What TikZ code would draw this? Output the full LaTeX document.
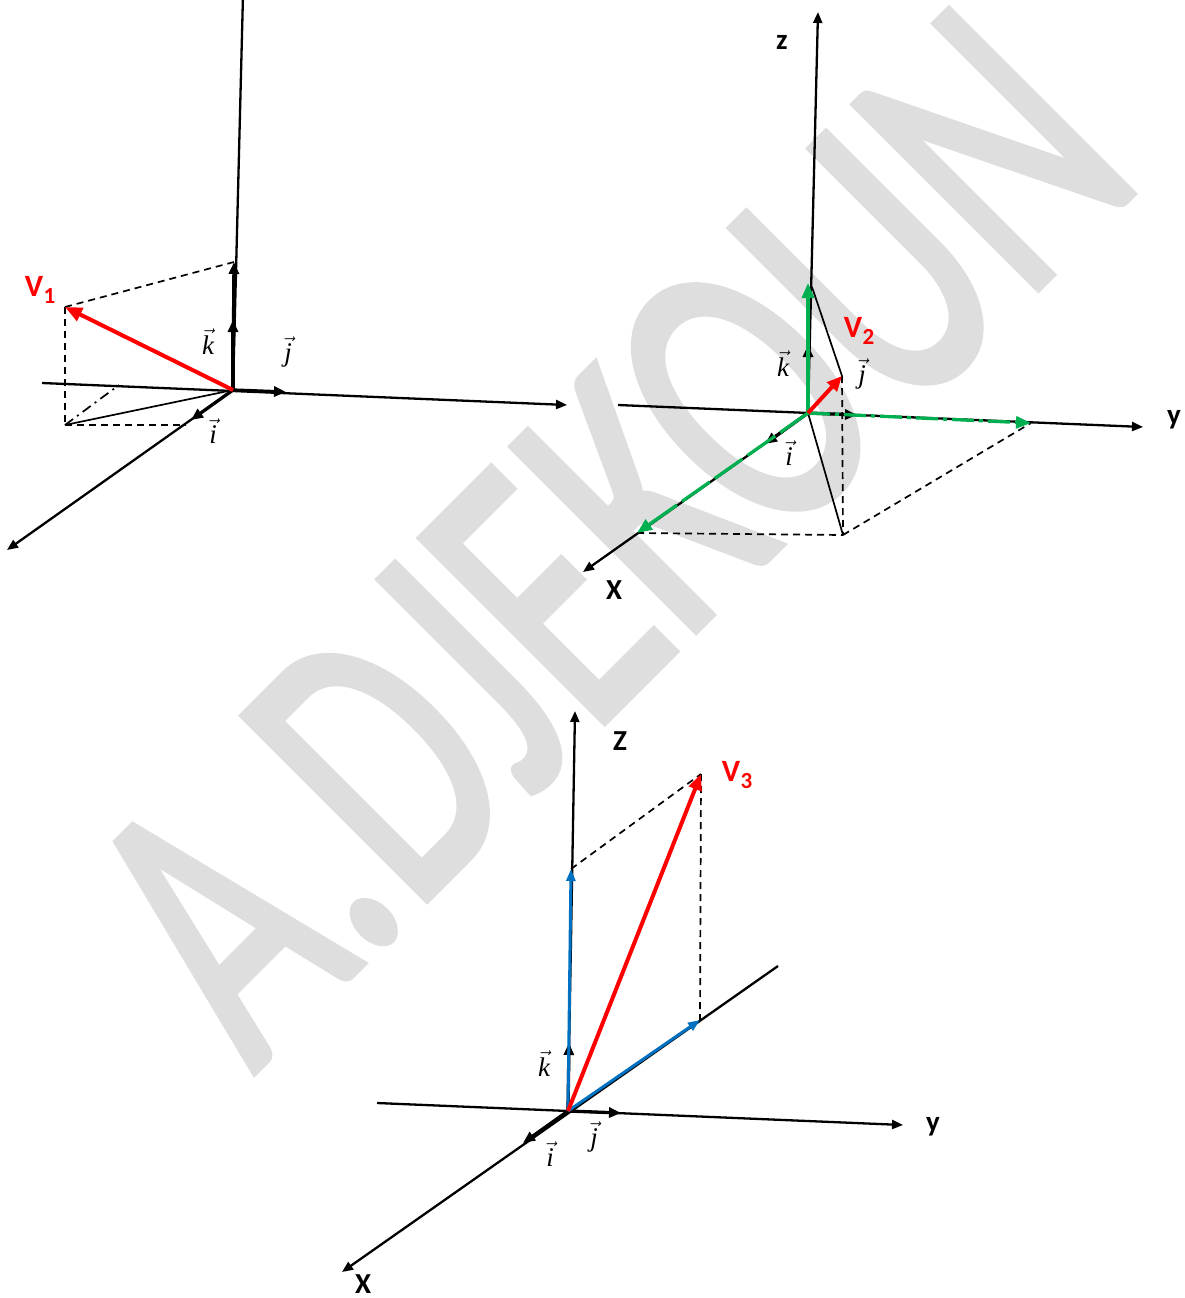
\documentclass[tikz,border=0pt]{standalone}
\usepackage{fontspec}
\usepackage{graphicx}
\usetikzlibrary{arrows.meta}
\newfontfamily\carl{Carlito}
\newfontfamily\carlwm[FakeBold=2]{Carlito}
\newfontfamily\tms{Liberation Serif}
\definecolor{wmgray}{HTML}{DEDEDE}
\definecolor{vred}{HTML}{FF0000}
\definecolor{vgreen}{HTML}{00B050}
\definecolor{vblue}{HTML}{0070C0}
\newcommand\uv[1]{$\vec{\mbox{\tms\itshape #1}}$}
\tikzset{
  axis/.style={black, line width=2.3pt, -{Triangle[length=11pt,width=9pt]}},
  axisline/.style={black, line width=2.3pt},
  unitv/.style={black, line width=3.3pt, -{Triangle[length=12pt,width=10pt]}},
  redv/.style={vred, line width=4pt, -{Triangle[length=17pt,width=14pt]}},
  greenv/.style={vgreen, line width=3.3pt, -{Triangle[length=15pt,width=12pt]}},
  bluev/.style={vblue, line width=3pt, -{Triangle[length=12pt,width=9pt]}},
  proj/.style={black, line width=1.7pt, dash pattern=on 7pt off 5pt},
  thin/.style={black, line width=1.7pt},
  unitlbl/.style={font=\fontsize{27}{27}\selectfont, inner sep=0pt},
  vlbl/.style={font=\fontsize{31}{31}\selectfont\carl\bfseries, text=vred, inner sep=0pt},
  axlbl/.style={font=\fontsize{29}{29}\selectfont\carl\bfseries, inner sep=0pt},
}
\newcommand\vsub[1]{V\kern0.5pt\raisebox{-0.22em}{\fontsize{23}{23}\selectfont #1}}
\begin{document}
\begin{tikzpicture}[x=1pt,y=-1pt]
\useasboundingbox (0,0) rectangle (1184,1298);
\clip (0,0) rectangle (1184,1298);
% watermark
\node[rotate=45, anchor=base, inner sep=0pt, text=wmgray] (wm) at (700,626)
  {\scalebox{0.67}[1]{\fontsize{404}{404}\selectfont\carlwm A.DJEKOUN}};

% ---------------- Diagram 1 ----------------
\coordinate (O1) at (233,390);
\coordinate (z1top) at (243,-5);
\coordinate (y1L) at (42,383);
\coordinate (y1R) at (567,405);
\coordinate (x1end) at (7,550);
\coordinate (k1) at (233,320);
\coordinate (zc1) at (234,262);
\coordinate (j1) at (286,392);
\coordinate (i1) at (191,420);
\coordinate (V1) at (65,307);
\coordinate (A1) at (65,425);
\coordinate (B1) at (119,385);
\coordinate (C1) at (186,425);
\draw[axisline] (O1) -- (z1top);
\draw[axis] (y1L) -- (y1R);
\draw[axis] (O1) -- (x1end);
\draw[proj] (V1) -- (zc1);
\draw[proj] (V1) -- (A1);
\draw[proj] (A1) -- (C1);
\draw[thin] (O1) -- (A1);
\draw[thin, dash pattern=on 10pt off 5pt on 2pt off 5pt] (A1) -- (B1);
\draw[unitv] (O1) -- (zc1);
\draw[unitv] (O1) -- (k1);
\draw[unitv] (O1) -- (j1);
\draw[unitv] (O1) -- (i1);
\draw[redv] (O1) -- (V1);
\node[vlbl] (lv1) at (40,290) {\vsub{1}};
\node[unitlbl] (lk1) at (208,342) {\uv{k}};
\node[unitlbl] (lj1) at (288,352) {\uv{j}};
\node[unitlbl] (li1) at (213,431) {\uv{i}};

% ---------------- Diagram 2 ----------------
\coordinate (O2) at (808,413);
\coordinate (z2top) at (818,12);
\coordinate (y2L) at (618,405);
\coordinate (y2R) at (1143,427);
\coordinate (x2end) at (583,572);
\coordinate (k2) at (808,345);
\coordinate (j2) at (857,415);
\coordinate (i2) at (765,444);
\coordinate (gz) at (808,283);
\coordinate (gzt) at (812,287);
\coordinate (gy) at (1031,423);
\coordinate (gx) at (637,533);
\coordinate (V2) at (842,376);
\coordinate (P2) at (843,535);
\draw[axis] (O2) -- (z2top);
\draw[axis] (y2L) -- (y2R);
\draw[axis] (O2) -- (x2end);
\draw[unitv] (O2) -- (k2);
\draw[unitv] (O2) -- (j2);
\draw[unitv] (O2) -- (i2);
\draw[thin] (gzt) -- (V2);
\draw[thin] (O2) -- (P2);
\draw[proj] (V2) -- (P2);
\draw[proj] (gx) -- (P2);
\draw[proj] (P2) -- (gy);
\draw[greenv] (O2) -- (gz);
\draw[greenv, dash pattern=on 22pt off 5pt on 4pt off 5pt] (O2) -- (gy);
\draw[greenv, dash pattern=on 34pt off 6pt] (O2) -- (gx);
\draw[redv, -{Triangle[length=15pt,width=13pt]}] (O2) -- (V2);
\node[vlbl] (lv2) at (859,331) {\vsub{2}};
\node[axlbl] (lz2) at (782,42) {z};
\node[axlbl] (ly2) at (1174,420) {y};
\node[axlbl] (lx2) at (614,590) {X};
\node[unitlbl] (lk2) at (783,364) {\uv{k}};
\node[unitlbl] (lj2) at (862,374) {\uv{j}};
\node[unitlbl] (li2) at (789,453) {\uv{i}};

% ---------------- Diagram 3 ----------------
\coordinate (O3) at (568,1111);
\coordinate (z3top) at (575,711);
\coordinate (y3L) at (377,1103);
\coordinate (y3R) at (903,1125);
\coordinate (x3far) at (778,966);
\coordinate (x3end) at (342,1272);
\coordinate (k3) at (569,1043);
\coordinate (j3) at (621,1113);
\coordinate (i3) at (523,1143);
\coordinate (bz) at (571,869);
\coordinate (bx) at (700,1020);
\coordinate (V3) at (701,774);
\draw[axis] (O3) -- (z3top);
\draw[axis] (y3L) -- (y3R);
\draw[axis] (x3far) -- (x3end);
\draw[unitv] (O3) -- (k3);
\draw[unitv] (O3) -- (j3);
\draw[unitv] (O3) -- (i3);
\draw[proj] (bz) -- (V3);
\draw[proj] (V3) -- (bx);
\draw[bluev] (O3) -- (bz);
\draw[bluev] (O3) -- (bx);
\draw[redv, -{Triangle[length=16pt,width=13pt]}] (O3) -- (V3);
\node[vlbl] (lv3) at (737,775) {\vsub{3}};
\node[axlbl] (lz3) at (620,741) {Z};
\node[axlbl] (ly3) at (933,1127) {y};
\node[axlbl] (lx3) at (363,1284) {X};
\node[unitlbl] (lk3) at (544,1064) {\uv{k}};
\node[unitlbl] (lj3) at (594,1137) {\uv{j}};
\node[unitlbl] (li3) at (550,1154) {\uv{i}};
\end{tikzpicture}
\end{document}
